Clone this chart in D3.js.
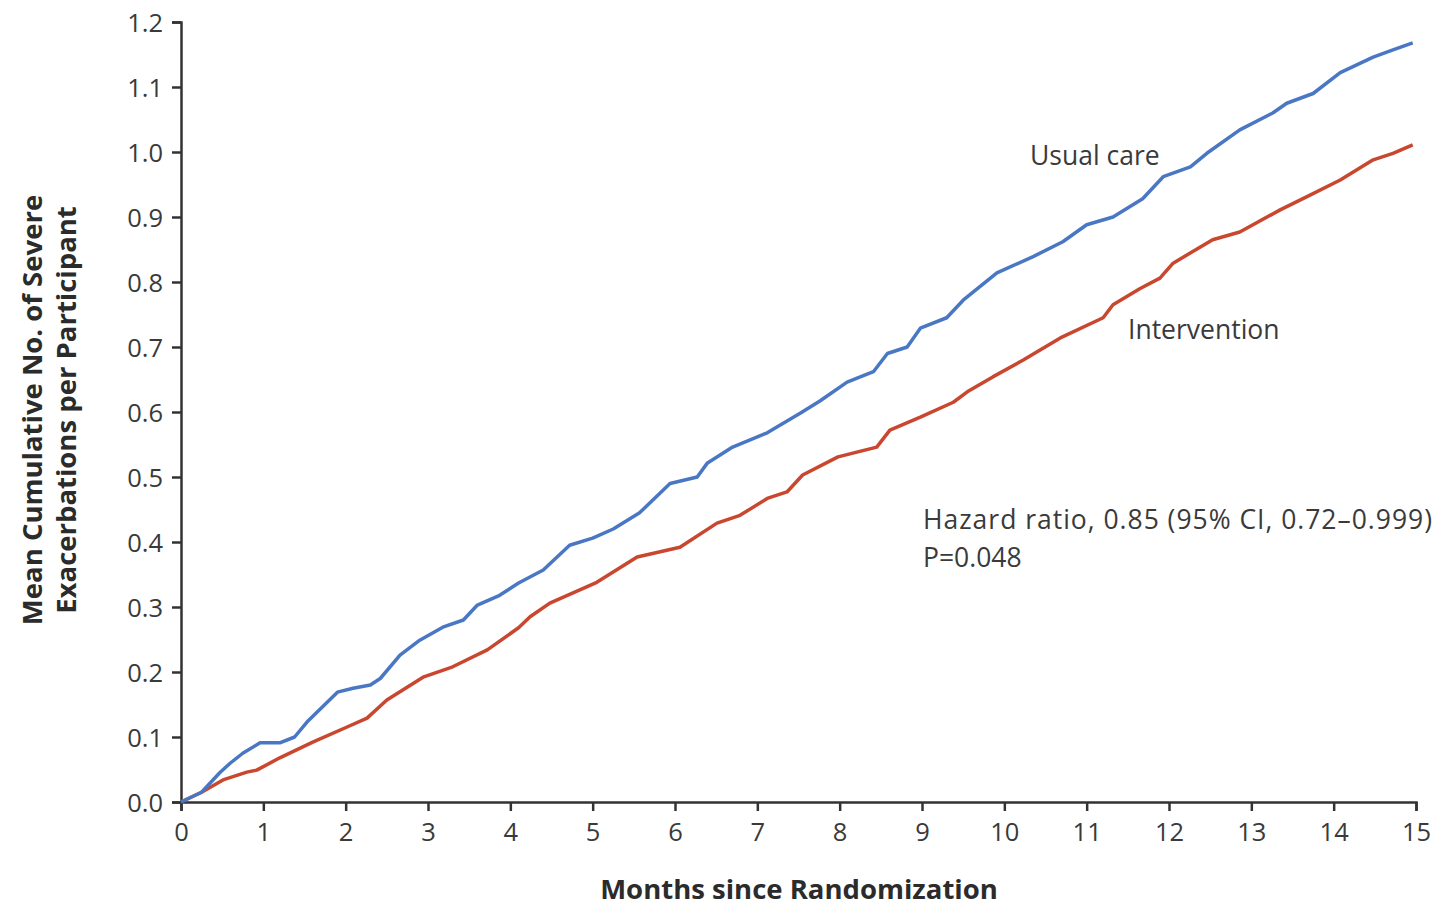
<!DOCTYPE html>
<meta charset="utf-8">
<style>
body { margin: 0; background: #fff; }
text { font-family: "Open Sans", "Noto Sans", sans-serif; fill: #3a3a3a; }
.tick text { font-size: 25.5px; }
.axis-title { font-size: 27.5px; font-weight: bold; fill: #2b2b2b; }
.note { font-size: 26.5px; }
</style>
<svg width="1441" height="908"></svg>
<script src="https://d3js.org/d3.v7.min.js"></script>
<script>

// months since randomization, mean cumulative no. of severe exacerbations
var usualMonths = [0, 0.25, 0.47, 0.6, 0.75, 0.96, 1.2, 1.38, 1.53, 1.9, 2.09, 2.3, 2.42, 2.66, 2.9, 3.18, 3.43, 3.6, 3.87,
  4.1, 4.4, 4.72, 5.0, 5.25, 5.57, 5.94, 6.27, 6.39, 6.7, 7.12, 7.52, 7.76, 8.09, 8.41, 8.58, 8.82, 8.98, 9.3, 9.5,
  9.91, 10.35, 10.71, 11.0, 11.32, 11.68, 11.93, 12.26, 12.46, 12.86, 13.26, 13.43, 13.75, 14.08, 14.48, 14.72, 14.96];
var usualCare = [0, 0.015, 0.045, 0.06, 0.075, 0.091, 0.091, 0.10, 0.123, 0.169, 0.175, 0.18, 0.19, 0.226, 0.249, 0.269, 0.28, 0.303, 0.318,
  0.337, 0.357, 0.395, 0.406, 0.42, 0.445, 0.49, 0.50, 0.521, 0.546, 0.568, 0.598, 0.617, 0.646, 0.662, 0.69, 0.70, 0.729, 0.745, 0.772,
  0.814, 0.839, 0.862, 0.888, 0.90, 0.928, 0.962, 0.977, 0.998, 1.034, 1.06, 1.075, 1.09, 1.122, 1.146, 1.157, 1.168];

var interMonths = [0, 0.25, 0.51, 0.8, 0.92, 1.2, 1.6, 2.01, 2.26, 2.5, 2.94, 3.3, 3.72, 4.1, 4.24, 4.48, 5.05, 5.54, 6.06,
  6.51, 6.79, 7.12, 7.36, 7.55, 7.98, 8.45, 8.61, 8.98, 9.38, 9.55, 9.86, 10.23, 10.68, 11.2, 11.32, 11.65, 11.89,
  12.05, 12.53, 12.86, 13.35, 13.67, 14.08, 14.48, 14.72, 14.96];
var intervention = [0, 0.015, 0.034, 0.046, 0.049, 0.068, 0.092, 0.115, 0.129, 0.157, 0.192, 0.208, 0.234, 0.268, 0.285, 0.306, 0.338, 0.377, 0.392,
  0.429, 0.441, 0.467, 0.477, 0.503, 0.531, 0.546, 0.572, 0.592, 0.615, 0.631, 0.654, 0.68, 0.714, 0.745, 0.765, 0.79, 0.806,
  0.829, 0.865, 0.877, 0.911, 0.931, 0.957, 0.988, 0.998, 1.011];

var xTicks = d3.range(0, 16);
var yTicks = d3.range(0, 13).map(function(d) { return d / 10; });

var svg = d3.select("svg"),
    margin = {top: 22, right: 25, bottom: 106, left: 181},
    g = svg.append("g").attr("transform", "translate(" + margin.left + "," + margin.top + ")");

var x = d3.scaleLinear().domain([0, 15]).range([0, 1235]);
var y = d3.scaleLinear().domain([0, 1.2]).range([780, 0]);

var xAxis = g.append("g")
    .attr("transform", "translate(0,780)")
    .call(d3.axisBottom(x).tickValues(xTicks).tickSize(9).tickPadding(12).tickFormat(d3.format("d")));

var yAxis = g.append("g")
    .call(d3.axisLeft(y).tickValues(yTicks).tickSize(9).tickPadding(9).tickFormat(d3.format(".1f")));

[xAxis, yAxis].forEach(function(a) {
  a.select(".domain").attr("stroke", "#333").attr("stroke-width", 2.5);
  a.selectAll(".tick line").attr("stroke", "#333").attr("stroke-width", 2.5);
  a.selectAll(".tick text").attr("fill", "#3a3a3a");
});
yAxis.selectAll(".tick text").attr("dy", "0.36em");

var line = d3.line()
    .x(function(d) { return x(d[0]); })
    .y(function(d) { return y(d[1]); });

g.append("path")
    .datum(d3.zip(interMonths, intervention))
    .attr("fill", "none")
    .attr("stroke", "#c9472f")
    .attr("stroke-width", 3.5)
    .attr("stroke-linejoin", "round")
    .attr("d", line);

g.append("path")
    .datum(d3.zip(usualMonths, usualCare))
    .attr("fill", "none")
    .attr("stroke", "#4a77c4")
    .attr("stroke-width", 3.5)
    .attr("stroke-linejoin", "round")
    .attr("d", line);

// labels
svg.append("text").attr("class", "note").attr("x", 1030).attr("y", 165).text("Usual care");
svg.append("text").attr("class", "note").attr("x", 1128).attr("y", 339).text("Intervention");
svg.append("text").attr("class", "note").attr("x", 923).attr("y", 529)
    .attr("textLength", 509).attr("lengthAdjust", "spacing")
    .text("Hazard ratio, 0.85 (95% CI, 0.72\u20130.999)");
svg.append("text").attr("class", "note").attr("x", 923).attr("y", 567).text("P=0.048");

svg.append("text").attr("class", "axis-title")
    .attr("x", 799).attr("y", 899)
    .attr("text-anchor", "middle")
    .text("Months since Randomization");

var yTitle = svg.append("text").attr("class", "axis-title")
    .attr("transform", "translate(42,410) rotate(-90)")
    .attr("text-anchor", "middle");
yTitle.append("tspan").attr("x", 0).attr("dy", 0).text("Mean Cumulative No. of Severe");
yTitle.append("tspan").attr("x", 0).attr("dy", 34).text("Exacerbations per Participant");

</script>
